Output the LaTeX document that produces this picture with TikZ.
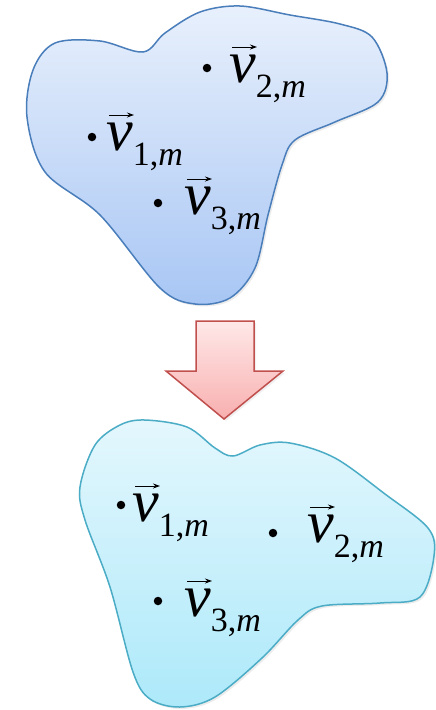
\documentclass[tikz,border=0pt]{standalone}
\usepackage{fontspec}
\setmainfont{Liberation Serif}
\usetikzlibrary{shadows,calc,arrows.meta}
\definecolor{blueA}{HTML}{E8F0FC}
\definecolor{blueB}{HTML}{A8C6F4}
\definecolor{blueL}{HTML}{4A7EBB}
\definecolor{cyanA}{HTML}{E4F7FD}
\definecolor{cyanB}{HTML}{ADE9FA}
\definecolor{cyanL}{HTML}{4BACC6}
\definecolor{redA}{HTML}{FFE8E8}
\definecolor{redB}{HTML}{F8AFAF}
\definecolor{redL}{HTML}{C0504D}
\newcommand\vlab[1]{{\fontsize{60}{60}\selectfont\itshape v}\raisebox{-15pt}{\fontsize{34}{34}\selectfont #1,\itshape m}}
\begin{document}
\begin{tikzpicture}[x=1pt,y=-1pt,
  blob/.style={line width=1.5pt, drop shadow={opacity=0.15, shadow xshift=2pt, shadow yshift=-2pt}},
  lab/.style={anchor=base west, inner sep=0pt},
  vecarrow/.style={line width=1pt, -{Stealth[length=7pt,width=5pt]}},
  dotmark/.style={circle, fill=black, inner sep=0pt, minimum size=8.5pt}]
\useasboundingbox (0,0) rectangle (436,710);
% top blob
\path[blob, draw=blueL, top color=blueA, bottom color=blueB]
  plot[smooth cycle, tension=0.55] coordinates {
  (55,43) (100,41) (143,52) (165,33) (200,12) (240,6) (290,15) (340,24) (372,37) (387,73)
  (378,102) (335,122) (295,140) (282,165) (268,215) (255,268) (230,298) (195,304)
  (160,288) (100,215) (45,172) (27,117) (33,70)};
% arrow
\path[draw=redL, line width=1.5pt, top color=redA, bottom color=redB, line join=miter,
  drop shadow={opacity=0.12, shadow xshift=2pt, shadow yshift=-2pt}]
  (196,321) -- (254,321) -- (254,371) -- (283,371) -- (224,419) -- (166,371) -- (196,371) -- cycle;
% bottom blob
\path[blob, draw=cyanL, top color=cyanA, bottom color=cyanB]
  plot[smooth cycle, tension=0.55] coordinates {
  (145,420) (187,427) (215,448) (233,456) (260,445) (290,443) (335,458) (385,494)
  (428,528) (434,556) (420,597) (380,603) (322,606) (298,620) (262,658) (215,697)
  (180,707) (150,699) (133,672) (110,587) (85,520) (80,487) (95,445) (120,425)};
% labels top
\node[dotmark] (d2) at (207,68) {};
\node[lab] (v2) at (229,82) {\vlab{2}};
\node[dotmark] (d1) at (92,137) {};
\node[lab] (v1) at (106,150) {\vlab{1}};
\node[dotmark] (d3) at (158,203) {};
\node[lab] (v3) at (184,214) {\vlab{3}};
% labels bottom
\node[dotmark] (e1) at (121,505) {};
\node[lab] (w1) at (132,521) {\vlab{1}};
\node[dotmark] (e2) at (273,533) {};
\node[lab] (w2) at (307,542) {\vlab{2}};
\node[dotmark] (e3) at (158,601) {};
\node[lab] (w3) at (184,616) {\vlab{3}};
% vector arrows
\foreach \n in {v1,v2,v3,w1,w2,w3}
  \draw[vecarrow] ($(\n.base west)+(3,-35)$) -- ($(\n.base west)+(28,-35)$);
\end{tikzpicture}
\end{document}
